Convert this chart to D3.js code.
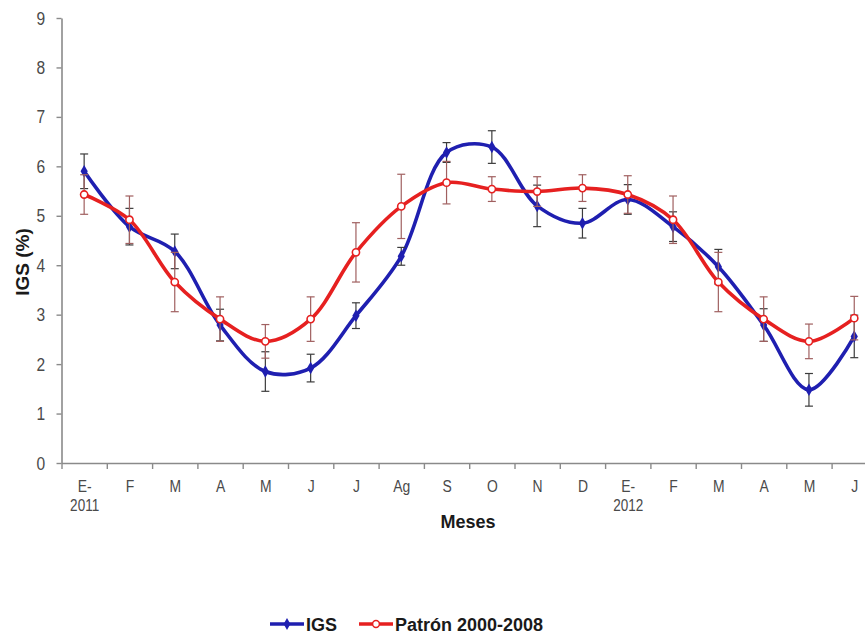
<!DOCTYPE html>
<html><head><meta charset="utf-8">
<script src="https://cdn.jsdelivr.net/npm/d3@7"></script>
<style>
body{margin:0;background:#fff;}
svg{display:block;}
</style></head>
<body>
<svg id="chart" width="865" height="639"></svg>
<script>
const months = ["E-","F","M","A","M","J","J","Ag","S","O","N","D","E-","F","M","A","M","J"];
const years = ["2011","","","","","","","","","","","","2012","","","","",""];
const igs = [5.90,4.78,4.28,2.79,1.85,1.92,2.98,4.18,6.28,6.39,5.20,4.85,5.33,4.78,3.97,2.79,1.48,2.56];
const igsErr = [0.35,0.37,0.35,0.32,0.40,0.28,0.26,0.18,0.20,0.33,0.42,0.30,0.30,0.30,0.35,0.33,0.33,0.43];
const patron = [5.43,4.92,3.66,2.91,2.46,2.91,4.26,5.19,5.67,5.54,5.49,5.56,5.43,4.92,3.66,2.91,2.46,2.93];
const patronErr = [0.40,0.48,0.60,0.45,0.34,0.45,0.60,0.65,0.43,0.25,0.30,0.27,0.38,0.48,0.60,0.45,0.35,0.44];
const yTicks = [0,1,2,3,4,5,6,7,8,9];
const seriesNames = ["IGS","Patrón 2000-2008"];

const svg = d3.select("#chart");
const x0 = 61.5, step = 45.3;
const x = d3.scaleLinear().domain([0, months.length]).range([x0, x0 + step*months.length]);
const y = d3.scaleLinear().domain([0, 9]).range([463, 18]);
const font = "'Liberation Sans Narrow','Liberation Sans',Arial,sans-serif";
const boldFont = "'Liberation Sans',Arial,sans-serif";
const axisCol = "#8a8a8a";
const labCol = "#4a4a4a";
const narrow = "scale(0.82,1)";

// Y axis
const gy = svg.append("g").attr("transform", `translate(${x0},0)`)
  .call(d3.axisLeft(y).tickValues(yTicks).tickSize(5).tickSizeOuter(0).tickPadding(15));
gy.select(".domain").attr("stroke", axisCol).attr("stroke-width", 1.6);
gy.selectAll(".tick line").attr("stroke", axisCol).attr("stroke-width", 1.4);
gy.selectAll(".tick text").attr("font-family", font).attr("font-size", 19).attr("fill", labCol)
  .attr("transform", narrow);

// X axis: tick marks at category boundaries
const gx = svg.append("g").attr("transform", `translate(0,${y(0)})`)
  .call(d3.axisBottom(x).tickValues(d3.range(months.length + 1)).tickSize(6).tickSizeOuter(0).tickFormat(""));
gx.select(".domain").attr("stroke", axisCol).attr("stroke-width", 1.6);
gx.selectAll(".tick line").attr("stroke", axisCol).attr("stroke-width", 1.4);

// X labels at category centres
const gl = svg.append("g").attr("transform", `translate(0,${y(0)})`)
  .call(d3.axisBottom(x).tickValues(d3.range(months.length).map(i => i + 0.5)).tickSize(0).tickPadding(17)
    .tickFormat(d => months[Math.floor(d)]));
gl.select(".domain").remove();
gl.selectAll(".tick text").attr("font-family", font).attr("font-size", 17).attr("fill", labCol)
  .attr("transform", narrow);
gl.selectAll(".tick").append("text")
  .attr("y", 48).attr("fill", labCol).attr("font-family", font).attr("font-size", 16.5)
  .attr("text-anchor", "middle").attr("transform", narrow)
  .text(d => years[Math.floor(d)]);

// Axis titles
svg.append("text").attr("x", 468).attr("y", 528).attr("text-anchor", "middle")
  .attr("font-family", boldFont).attr("font-weight", "bold").attr("font-size", 18)
  .attr("fill", "#1a1a1a").text("Meses");
svg.append("text").attr("transform", "translate(29,262) rotate(-90)").attr("text-anchor", "middle")
  .attr("font-family", boldFont).attr("font-weight", "bold").attr("font-size", 19)
  .attr("fill", "#1a1a1a").text("IGS (%)");

const cx = i => x(i + 0.5);
const line = d3.line().x((d, i) => cx(i)).y(d => y(d)).curve(d3.curveCatmullRom.alpha(0.5));

function drawSeries(vals, errs, color, errColor, filled) {
  const g = svg.append("g");
  g.append("path").datum(vals).attr("d", line).attr("fill", "none")
    .attr("stroke", color).attr("stroke-width", 3.6).attr("stroke-linejoin", "round");
  const eb = g.append("g").selectAll("g").data(vals).join("g");
  eb.append("line").attr("x1", (d, i) => cx(i)).attr("x2", (d, i) => cx(i))
    .attr("y1", (d, i) => y(d + errs[i])).attr("y2", (d, i) => y(d - errs[i]))
    .attr("stroke", errColor).attr("stroke-width", 1.2);
  [1, -1].forEach(s => {
    eb.append("line").attr("x1", (d, i) => cx(i) - 4).attr("x2", (d, i) => cx(i) + 4)
      .attr("y1", (d, i) => y(d + s*errs[i])).attr("y2", (d, i) => y(d + s*errs[i]))
      .attr("stroke", errColor).attr("stroke-width", 1.2);
  });
  if (filled) {
    g.append("g").selectAll("path").data(vals).join("path")
      .attr("d", d3.symbol(d3.symbolDiamond, 45))
      .attr("transform", (d, i) => `translate(${cx(i)},${y(d)})`)
      .attr("fill", color);
  } else {
    g.append("g").selectAll("circle").data(vals).join("circle")
      .attr("cx", (d, i) => cx(i)).attr("cy", d => y(d)).attr("r", 3.6)
      .attr("fill", "#fff").attr("stroke", color).attr("stroke-width", 1.6);
  }
}
drawSeries(igs, igsErr, "#1f1fb0", "#3c3c3c", true);
drawSeries(patron, patronErr, "#e62020", "#a06060", false);

// Legend
const lg = svg.append("g");
const ly = 624;
const items = [
  {name: seriesNames[0], color: "#1f1fb0", x: 270, filled: true},
  {name: seriesNames[1], color: "#e62020", x: 359, filled: false}
];
items.forEach(it => {
  lg.append("line").attr("x1", it.x).attr("x2", it.x + 34).attr("y1", ly).attr("y2", ly)
    .attr("stroke", it.color).attr("stroke-width", 3.4);
  if (it.filled) {
    lg.append("path").attr("d", d3.symbol(d3.symbolDiamond, 40)).attr("transform", `translate(${it.x + 17},${ly})`)
      .attr("fill", it.color);
  } else {
    lg.append("circle").attr("cx", it.x + 17).attr("cy", ly).attr("r", 3.4).attr("fill", "#fff")
      .attr("stroke", it.color).attr("stroke-width", 1.5);
  }
  lg.append("text").attr("x", it.x + 36).attr("y", ly + 6.5).attr("font-family", boldFont)
    .attr("font-weight", "bold").attr("font-size", 18).attr("fill", "#1a1a1a").text(it.name);
});
</script>
</body></html>
